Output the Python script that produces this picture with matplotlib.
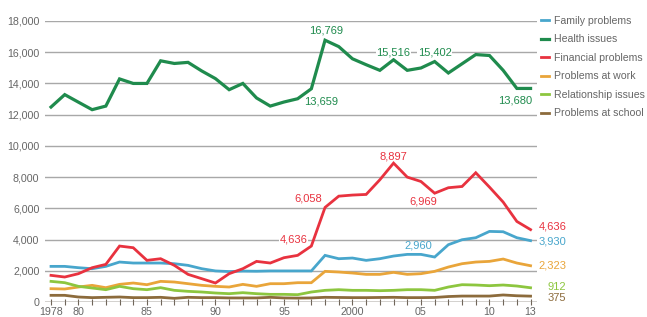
#!/usr/bin/env python3
"""Suicides by motive, 1978-2013: line chart with end labels."""

import matplotlib
matplotlib.use("Agg")
import matplotlib.pyplot as plt
import numpy as np

years = np.arange(1978, 2014)

family = [2282, 2282, 2197, 2133, 2282, 2560, 2496, 2496, 2496, 2453, 2347, 2133,
          1990, 1950, 1980, 1970, 1990, 1990, 1990, 1990, 2987, 2773, 2816, 2667,
          2773, 2944, 3050, 3050, 2880, 3670, 3990, 4117, 4522, 4500, 4117, 3930]
health = [12489, 13284, 12800, 12320, 12550, 14290, 14000, 14000, 15450, 15280, 15350, 14800,
          14310, 13600, 14000, 13070, 12550, 12810, 13020, 13659, 16769, 16360, 15580, 15200,
          14840, 15516, 14840, 14990, 15402, 14670, 15260, 15850, 15790, 14840, 13680, 13680]
financial = [1707, 1600, 1813, 2197, 2410, 3584, 3477, 2667, 2773, 2347, 1770, 1493,
             1216, 1813, 2133, 2602, 2496, 2837, 2987, 3584, 6058, 6780, 6850, 6890,
             7830, 8897, 8000, 7720, 6969, 7320, 7400, 8280, 7360, 6400, 5160, 4636]
work = [853, 832, 960, 1067, 917, 1130, 1216, 1109, 1322, 1280, 1173, 1067,
        1003, 960, 1130, 1003, 1173, 1173, 1237, 1237, 1963, 1920, 1856, 1770,
        1770, 1899, 1770, 1813, 1963, 2240, 2453, 2560, 2602, 2752, 2496, 2323]
relationship = [1322, 1237, 1003, 896, 789, 1003, 853, 789, 917, 747, 683, 640,
                576, 533, 597, 533, 490, 490, 469, 640, 747, 789, 747, 747,
                725, 747, 789, 789, 747, 960, 1109, 1088, 1045, 1088, 1024, 912]
school = [427, 427, 320, 280, 300, 320, 280, 280, 300, 235, 300, 280,
          280, 260, 260, 260, 300, 260, 250, 260, 300, 290, 280, 280,
          290, 300, 280, 280, 290, 350, 380, 380, 380, 450, 400, 375]

series_names = ["Family problems", "Health issues", "Financial problems",
                "Problems at work", "Relationship issues", "Problems at school"]
colors = ["#48a6cc", "#1f8b4d", "#e8323f", "#e9a53a", "#8dc63f", "#8c6b3c"]

yticks = [0, 2000, 4000, 6000, 8000, 10000, 12000, 14000, 16000, 18000]
xtick_years = [1978, 1980, 1985, 1990, 1995, 2000, 2005, 2010, 2013]
xtick_labels = ["1978", "80", "85", "90", "95", "2000", "05", "10", "13"]

# (text, year, value, series index, white box behind)
annotations = [
    ("16,769", 1998.07, 17420, 1, False),
    ("13,659", 1997.7, 12850, 1, False),
    ("15,516", 2003.0, 15980, 1, True),
    ("15,402", 2006.0, 15980, 1, True),
    ("13,680", 2011.9, 12900, 1, False),
    ("8,897", 2003.0, 9350, 2, False),
    ("6,969", 2005.2, 6430, 2, False),
    ("6,058", 1996.75, 6600, 2, False),
    ("4,636", 1995.7, 3990, 2, True),
    ("2,960", 2004.8, 3590, 0, False),
]
end_labels = [
    ("4,636", 4820, 2),
    ("3,930", 3860, 0),
    ("2,323", 2320, 3),
    ("912", 960, 4),
    ("375", 250, 5),
]


def main() -> None:
    plt.rcParams["font.family"] = ["Liberation Sans", "DejaVu Sans"]
    fig = plt.figure(figsize=(6.47, 3.17), dpi=100)
    ax = fig.add_axes((45 / 647, 15 / 317, 492 / 647, 281 / 317))

    data = [family, health, financial, work, relationship, school]
    widths = [2.0, 2.3, 2.0, 2.0, 2.0, 2.0]
    handles = [None] * 6
    for idx in [5, 4, 3, 0, 2, 1]:
        (line,) = ax.plot(years, data[idx], color=colors[idx], linewidth=widths[idx],
                          label=series_names[idx], solid_joinstyle="miter", zorder=3 + idx * 0.1,
                          clip_on=False)
        handles[idx] = line

    ax.set_xlim(1977.56, 2013.47)
    ax.set_ylim(0, 18000)
    ax.set_yticks(yticks)
    ax.set_yticklabels([f"{v:,}" for v in yticks])
    ax.set_xticks(xtick_years)
    ax.set_xticklabels(xtick_labels)
    ax.set_xticks(years, minor=True)
    ax.tick_params(axis="y", length=0, labelsize=7.7, labelcolor="#666666", pad=4)
    ax.tick_params(axis="x", which="both", direction="inout", length=5, width=0.8,
                   color="#6e6458", labelsize=7.7, labelcolor="#666666", pad=1)
    for spine in ax.spines.values():
        spine.set_visible(False)
    ax.grid(axis="y", color="#a8a8a8", linewidth=1.0, zorder=1)
    ax.axhline(0, color="#6e6458", linewidth=1.0, zorder=2)

    for text, x, y, idx, boxed in annotations:
        kw = {}
        if boxed:
            kw["bbox"] = dict(facecolor="white", edgecolor="none", pad=0.6)
        ax.text(x, y, text, color=colors[idx], fontsize=8, ha="center", va="center",
                zorder=6, **kw)

    for text, y, idx in end_labels:
        ax.text(2015.6, y, text, color=colors[idx], fontsize=8, ha="right", va="center")

    fig.legend(handles=handles, labels=series_names, loc="upper left",
               bbox_to_anchor=(541 / 647, 1 - 16 / 317), frameon=False, fontsize=7.6,
               handlelength=0.8, handletextpad=0.4, labelspacing=0.8, borderaxespad=0,
               borderpad=0, labelcolor="#666666")

    fig.savefig("out.png", dpi=100)


if __name__ == "__main__":
    main()
